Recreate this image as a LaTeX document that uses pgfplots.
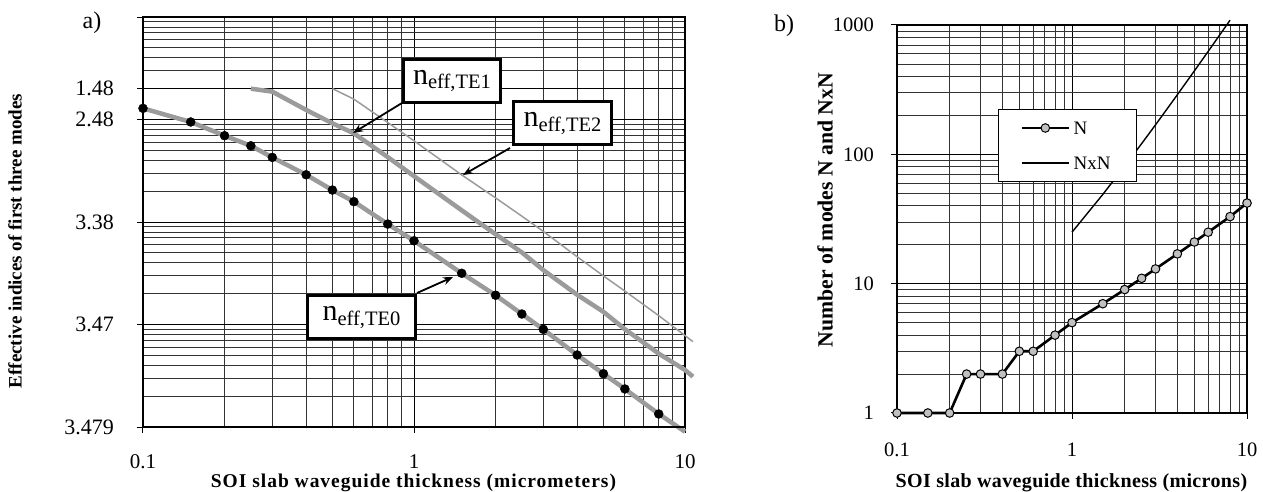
\documentclass[border=0pt]{standalone}
\usepackage{fontspec}
\setmainfont{Liberation Serif}
\usepackage{pgfplots}
\pgfplotsset{compat=1.18}
\usetikzlibrary{arrows.meta}

\definecolor{curvegray}{RGB}{155,155,155}
\definecolor{markgray}{RGB}{192,192,192}

% distance of each effective index below 3.48 (plotted on a log scale)
\pgfplotstableread{
x dn
0.1  1.285
0.15 0.946
0.2  0.695
0.25 0.554
0.3  0.427
0.4  0.289
0.5  0.205
0.6  0.158
0.8  0.0955
1    0.0656
1.5  0.0316
2    0.0193
2.5  0.01266
3    0.00897
4    0.00504
5    0.00331
6    0.00235
8    0.00134
10   0.00090
}\teZero

\pgfplotstableread{
x dn
0.25 2.0
0.3  1.87
0.4  1.24
0.5  0.918
0.6  0.733
0.8  0.43
1    0.28
1.5  0.13
2    0.076
2.5  0.0505
3    0.034
4    0.0195
5    0.0133
6    0.0090
8    0.0052
10   0.0036
10.7 0.0031
}\teOne

\pgfplotstableread{
x dn
0.5  2.0
0.6  1.58
0.8  0.935
1    0.62
1.5  0.288
2    0.172
2.5  0.114
3    0.081
4    0.0458
5    0.0298
6    0.0212
8    0.0122
10   0.0078
10.7 0.0068
}\teTwo

% number of guided modes
\pgfplotstableread{
x N
0.1  1
0.15 1
0.2  1
0.25 2
0.3  2
0.4  2
0.5  3
0.6  3
0.8  4
1    5
1.5  7
2    9
2.5  11
3    13
4    17
5    21
6    25
8    33
10   42
}\modesN

\pgfplotstableread{
x NN
1    25
1.5  49
2    81
2.5  121
3    169
4    289
5    441
6    625
8    1089
}\modesNN

\begin{document}
\begin{tikzpicture}[x=1pt,y=1pt]
\useasboundingbox (0pt,0pt) rectangle (1263pt,492pt);

% ---------- a) effective indices ----------
\begin{axis}[
  xmode=log, ymode=log,
  scale only axis, clip=false,
  at={(143pt,65pt)}, anchor=south west,
  width=542pt, height=410pt,
  axis line style={black, line width=1.3pt},
  tick style={black, line width=1pt},
  major tick length=12pt, minor tick length=0pt, tick align=center,
  xtick pos=left, ytick pos=left,
  grid=both,
  major grid style={black, line width=0.8pt},
  minor grid style={black!80, line width=0.8pt},
  xmin=0.1, xmax=10,
  xtick={0.1,1,10}, xticklabels={0.1,1,10},
  minor xtick={0.2,0.3,0.4,0.5,0.6,0.7,0.8,0.9,2,3,4,5,6,7,8,9},
  ymin=0.001, ymax=10,
  ytick={0.001,0.01,0.1,1,2,10},
  yticklabels={3.479,3.47,3.38,2.48,1.48,{}},
  minor ytick={0.002,0.003,0.004,0.005,0.006,0.007,0.008,0.009,
               0.02,0.03,0.04,0.05,0.06,0.07,0.08,0.09,
               0.2,0.3,0.4,0.5,0.6,0.7,0.8,0.9,
               3,4,5,6,7,8,9},
  xticklabel style={font=\fontsize{21}{21}\selectfont, anchor=north, inner sep=0pt},
  yticklabel style={font=\fontsize{22}{22}\selectfont, anchor=east, inner sep=0pt},
  yticklabel shift=23pt,
  xticklabel shift=21pt,
]
\addplot[curvegray, line width=1.5pt] table[x=x, y=dn] {\teTwo};
\addplot[curvegray, line width=4.5pt] table[x=x, y=dn] {\teOne};
\addplot[curvegray, line width=4.5pt] table[x=x, y=dn] {\teZero};
\addplot[only marks, mark=*, mark size=4.5pt, black,
         restrict expr to domain={\coordindex}{0:17}] table[x=x, y=dn] {\teZero};
\draw[black, line width=2.4pt] (rel axis cs:0,0) -- (rel axis cs:0,1);
\draw[black, line width=2pt] (rel axis cs:0,0) -- (rel axis cs:1,0);
\end{axis}

% ---------- b) number of modes ----------
\begin{axis}[
  xmode=log, ymode=log,
  scale only axis, clip=false,
  at={(897pt,79pt)}, anchor=south west,
  width=350pt, height=388pt,
  axis line style={black, line width=1.3pt},
  tick style={black, line width=1pt},
  major tick length=12pt, minor tick length=0pt, tick align=center,
  xtick pos=left, ytick pos=left,
  grid=both,
  major grid style={black, line width=0.8pt},
  minor grid style={black!80, line width=0.8pt},
  xmin=0.1, xmax=10,
  xtick={0.1,1,10}, xticklabels={0.1,1,10},
  minor xtick={0.2,0.3,0.4,0.5,0.6,0.7,0.8,0.9,2,3,4,5,6,7,8,9},
  ymin=1, ymax=1000,
  ytick={1,10,100,1000}, yticklabels={1,10,100,1000},
  minor ytick={2,3,4,5,6,7,8,9,20,30,40,50,60,70,80,90,200,300,400,500,600,700,800,900},
  xticklabel style={font=\fontsize{20.5}{20.5}\selectfont, anchor=north, inner sep=0pt},
  yticklabel style={font=\fontsize{20.5}{20.5}\selectfont, anchor=east, inner sep=0pt},
  yticklabel shift=17pt,
  xticklabel shift=24pt,
  legend style={at={(rel axis cs:0.2886,0.7835)}, anchor=north west,
    draw=black, line width=1pt, fill=white,
    inner xsep=22pt, inner ysep=12pt, row sep=22pt,
    font=\fontsize{19}{19}\selectfont,
    nodes={inner xsep=3.5pt, inner ysep=0pt, text height=13pt, text depth=0pt}},
  legend cell align=left,
  legend image code/.code={\draw[mark repeat=2,mark phase=2,#1]
    plot coordinates {(0pt,0pt) (23.5pt,0pt) (47pt,0pt)};},
]
\addplot[black, line width=2.6pt, mark=*, mark size=4.3pt,
         mark options={fill=markgray, draw=black, line width=1pt}]
  table[x=x, y=N] {\modesN};
\addlegendentry{N}
\addplot[black, line width=1.4pt] table[x=x, y=NN] {\modesNN};
\addlegendentry{NxN}
\draw[black, line width=2.4pt] (rel axis cs:0,0) -- (rel axis cs:0,1);
\draw[black, line width=2pt] (rel axis cs:0,0) -- (rel axis cs:1,0);
\end{axis}

% ---------- annotations ----------
\draw[line width=1.8pt, -{Stealth[length=10pt,width=8pt]}] (402pt,389pt) -- (353pt,359pt);
\draw[line width=1.8pt, -{Stealth[length=10pt,width=8pt]}] (510pt,344pt) -- (463pt,317pt);
\draw[line width=1.8pt, -{Stealth[length=10pt,width=8pt]}] (417pt,199pt) -- (453pt,215pt);

\tikzset{modebox/.style={draw=black, line width=3pt, fill=white, inner sep=0pt, minimum height=43pt}}
\node[modebox, minimum width=97pt] at (452pt,411pt)
  {{\fontsize{30}{30}\selectfont n}\raisebox{-4.5pt}{\fontsize{20.5}{20.5}\selectfont eff,TE1}};
\node[modebox, minimum width=98pt] at (562.5pt,368.5pt)
  {{\fontsize{30}{30}\selectfont n}\raisebox{-4.5pt}{\fontsize{20.5}{20.5}\selectfont eff,TE2}};
\node[modebox, minimum width=108pt] at (361.5pt,174.5pt)
  {{\fontsize{30}{30}\selectfont n}\raisebox{-4.5pt}{\fontsize{20.5}{20.5}\selectfont eff,TE0}};

\node[font=\fontsize{24}{24}\selectfont] at (92pt,469pt) {a)};
\node[font=\fontsize{24}{24}\selectfont] at (784pt,466pt) {b)};

\node[rotate=90, font=\fontsize{19}{19}\selectfont\bfseries] at (15pt,251pt)
  {Effective indices of first three modes};
\node[anchor=base, inner sep=0pt, font=\fontsize{19.5}{19.5}\selectfont\bfseries\addfontfeature{LetterSpace=5}]
  at (413.5pt,4pt) {SOI slab waveguide thickness (micrometers)};
\node[rotate=90, font=\fontsize{21.7}{21.7}\selectfont\bfseries] at (825pt,282pt)
  {Number of modes N and NxN};
\node[anchor=base, inner sep=0pt, font=\fontsize{20}{20}\selectfont\bfseries\addfontfeature{LetterSpace=1.8}]
  at (1071.5pt,4pt) {SOI slab waveguide thickness (microns)};
\end{tikzpicture}
\end{document}
